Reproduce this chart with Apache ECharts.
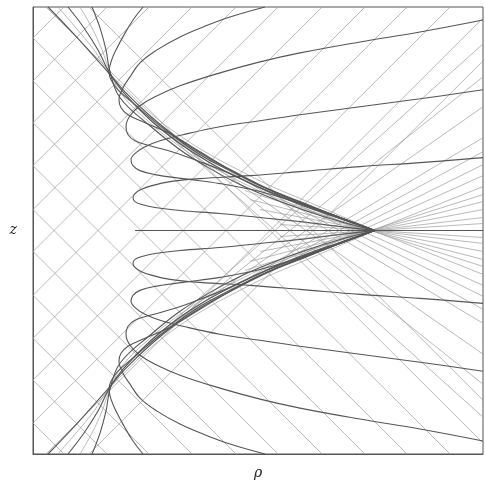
<!DOCTYPE html>
<html>
<head>
<meta charset="utf-8">
<script src="https://cdn.jsdelivr.net/npm/echarts@6/dist/echarts.min.js"></script>
<style>
  html, body { margin: 0; padding: 0; background: #fff; }
  #chart { width: 485px; height: 485px; }
</style>
</head>
<body>
<div id="chart"></div>
<script>
// only the upper half (z >= 0) is listed, the lower half is its mirror image
// wavefront loops: right edge -> tip -> focus
const loop1 = [[450, 73], [387, 68], [327, 64], [267, 59], [217, 55], [167, 52], [137, 49], [119, 45], [108, 41], [102, 37], [100, 33], [102, 29], [109, 26], [122, 23], [147, 20], [187, 17], [227, 13], [267, 9], [307, 4], [342, 0]]
const loop2 = [[450, 141], [387, 132], [327, 124], [267, 116], [227, 110], [187, 104], [150, 96], [127, 90], [112, 84], [103, 78], [98, 71], [100, 65], [107, 60], [122, 56], [150, 52], [187, 47], [227, 39], [267, 27], [307, 13], [342, 0]]
const loop3 = [[450, 211], [387, 199], [327, 189], [267, 178], [227, 169], [187, 158], [147, 145], [122, 134], [107, 125], [97, 115], [93, 104], [95, 96], [102, 90], [117, 85], [142, 78], [167, 69], [197, 57], [227, 43], [267, 27], [307, 12], [342, 0]]
const loop4 = [[232, 224], [197, 214], [170, 204], [147, 194], [124, 181], [107, 168], [97, 154], [90, 143], [86, 131], [88, 123], [95, 116], [112, 108], [137, 97], [167, 79], [197, 61], [227, 45], [267, 28], [307, 13], [342, 0]]
const loop5 = [[110, 224], [100, 211], [91, 196], [83, 181], [78, 169], [76, 159], [78, 151], [85, 141], [102, 126], [132, 101], [167, 76], [197, 60], [227, 45], [267, 28], [307, 13], [342, 0]]
// branches bunched along the caustic
const bundle1 = [[15, 224], [37, 201], [57, 179], [73, 161], [92, 139], [117, 115], [147, 91], [177, 72], [207, 56], [237, 41], [272, 27], [307, 13], [342, 0]]
const bundle2 = [[25, 224], [43, 203], [61, 181], [75, 160], [91, 143], [117, 118], [147, 95], [177, 76], [207, 60], [237, 45], [272, 30], [307, 15], [342, 0]]
const bundle3 = [[35, 224], [51, 203], [65, 181], [76, 159], [90, 139], [117, 111], [147, 87], [177, 68], [207, 52], [237, 38], [272, 24], [307, 12], [342, 0]]
const bundle4 = [[47, 224], [59, 203], [69, 181], [77, 159], [89, 136], [117, 108], [147, 84], [177, 65], [207, 49], [237, 35], [272, 22], [307, 10], [342, 0]]
const bundle5 = [[59, 224], [67, 203], [73, 181], [77, 159], [87, 133], [117, 105], [147, 81], [177, 62], [207, 46], [237, 33], [272, 20], [307, 9], [342, 0]]
const axisSegment = [[102, 0], [450, 0]]
// straight rays reflected on rho = 0: vertex height and slope
const rayVertexZ = [21, 65, 108, 150, 193, 237, 280]
const raySlope = 1.0
// rays leaving the caustic towards and past the focus
const fanStart = [[247, 6], [237, 12], [227, 21], [217, 31], [212, 40], [267, 29], [237, 41], [197, 60], [177, 71], [157, 83], [139, 94], [124, 106], [115, 114]]
const fanEnd = [[450, -7], [450, -13], [450, -21], [450, -29], [450, -36], [450, -44], [450, -55], [450, -66], [450, -79], [450, -93], [450, -124], [450, -154], [450, -187]]

const solidCurves = [loop1, loop2, loop3, loop4, loop5, bundle1, bundle3, bundle5]
const thinCurves = [bundle2, bundle4]

const mirror = pts => pts.map(p => [p[0], -p[1]])

const solidStyle = { color: '#555', width: 1.1 }
const thinStyle = { color: '#9c9c9c', width: 0.7 }

function lineSeries(data, style, smooth) {
  return {
    type: 'line',
    data: data,
    showSymbol: false,
    smooth: smooth,
    silent: true,
    clip: true,
    lineStyle: style,
    z: style === solidStyle ? 3 : 2
  }
}

const series = []
rayVertexZ.forEach(zv => {
  const far = 700
  const ray = [[far, zv + raySlope * far], [0, zv], [zv / raySlope + far, -raySlope * far]]
  series.push(lineSeries(ray, thinStyle, false))
  series.push(lineSeries(mirror(ray), thinStyle, false))
})
fanStart.forEach((s, i) => {
  const ray = [s, fanEnd[i]]
  series.push(lineSeries(ray, thinStyle, false))
  series.push(lineSeries(mirror(ray), thinStyle, false))
})
thinCurves.forEach(c => {
  series.push(lineSeries(c, thinStyle, 0.4))
  series.push(lineSeries(mirror(c), thinStyle, 0.4))
})
solidCurves.forEach(c => {
  series.push(lineSeries(c, solidStyle, 0.4))
  series.push(lineSeries(mirror(c), solidStyle, 0.4))
})
series.push(lineSeries(axisSegment, solidStyle, false))

const chart = echarts.init(document.getElementById('chart'))
chart.setOption({
  animation: false,
  backgroundColor: '#fff',
  grid: { left: 33, top: 7, width: 450, height: 448, show: true, borderColor: '#555', borderWidth: 1 },
  xAxis: {
    type: 'value', min: 0, max: 450,
    name: 'ρ', nameLocation: 'middle', nameGap: 12,
    nameTextStyle: { fontFamily: 'DejaVu Serif', fontStyle: 'italic', fontSize: 14, color: '#222' },
    axisLine: { show: true, onZero: false, lineStyle: { color: '#555' } },
    axisTick: { show: false }, axisLabel: { show: false }, splitLine: { show: false }
  },
  yAxis: {
    type: 'value', min: -224, max: 224,
    name: 'z', nameLocation: 'middle', nameGap: 16, nameRotate: 0,
    nameTextStyle: { fontFamily: 'DejaVu Serif', fontStyle: 'italic', fontSize: 14, color: '#222' },
    axisLine: { show: true, onZero: false, lineStyle: { color: '#555' } },
    axisTick: { show: false }, axisLabel: { show: false }, splitLine: { show: false }
  },
  series: series
})
</script>
</body>
</html>
